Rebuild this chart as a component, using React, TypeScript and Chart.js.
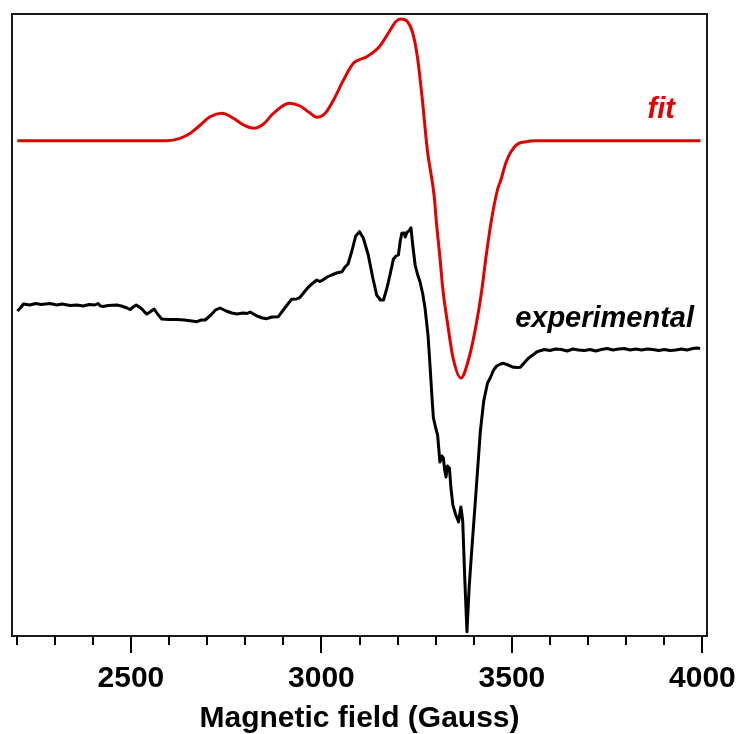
import React, { useEffect, useRef } from "react";
import { Chart, registerables } from "chart.js";

Chart.register(...registerables);

// Experimental EPR spectrum (field in Gauss, intensity in arbitrary units)
const expField = [
  2202, 2210, 2218, 2235, 2250, 2265, 2288, 2305, 2320, 2340, 2358, 2375, 2390, 2405, 2414, 2420,
  2427, 2440, 2463, 2475, 2490, 2498, 2506, 2514, 2522, 2529, 2536, 2542, 2550, 2561, 2570, 2581,
  2600, 2620, 2640, 2660, 2673, 2685, 2695, 2710, 2722, 2734, 2750, 2765, 2778, 2795, 2805, 2813,
  2822, 2831, 2845, 2857, 2870, 2887, 2900, 2912, 2922, 2935, 2944, 2955, 2966, 2978, 2988, 2995,
  3001, 3015, 3027, 3040, 3054, 3062, 3070, 3080, 3090, 3100, 3110, 3123, 3135, 3145, 3155, 3163,
  3172, 3180, 3189, 3196, 3202, 3207, 3211, 3217, 3220, 3225, 3230, 3235, 3240, 3246, 3252, 3259,
  3266, 3272, 3280, 3285, 3290, 3294, 3300, 3305, 3311, 3316, 3320, 3324, 3327, 3331, 3336, 3340,
  3345, 3352, 3360, 3366, 3369, 3371, 3376, 3382, 3388, 3395, 3405, 3417, 3426, 3436, 3443, 3452,
  3460, 3470, 3478, 3490, 3504, 3515, 3522, 3532, 3543, 3555, 3565, 3574, 3585, 3600, 3615, 3630,
  3645, 3660, 3675, 3690, 3705, 3720, 3735, 3750, 3765, 3780, 3795, 3810, 3825, 3840, 3855, 3870,
  3885, 3900, 3915, 3930, 3945, 3960, 3975, 3985, 3994,
];
const expSignal = [
  325, 328, 332, 331, 332.5, 331.5, 332.5, 331, 332, 330.5, 331, 330, 331.5, 331, 332.5, 330,
  329.5, 330.5, 331, 330, 328, 326.5, 329, 331, 329, 327, 324, 322, 324, 327, 322, 317,
  316.5, 316.5, 316, 315, 314.3, 316, 316, 321, 326, 328, 325, 323, 322, 323, 322.5, 324,
  322, 320, 318, 317.3, 319, 319.3, 326, 332, 336.7, 337, 338.7, 344, 349, 353, 356, 354.5,
  355.3, 359, 361, 363, 364.3, 369, 372, 385, 400, 404.3, 398, 381, 358, 341, 336, 336,
  348, 361, 377, 380, 381, 395, 402.7, 403, 399, 404, 405, 408.3, 390, 371, 362, 354,
  342, 328, 300, 271, 240, 218, 208, 201, 174, 180, 178, 165, 159, 170, 168, 148,
  131, 122, 114, 129, 121, 114, 60, 4.3, 50, 88, 140, 204, 235, 253, 258, 266,
  270, 272, 272.7, 271, 268.7, 268.5, 268.7, 273, 277.7, 281, 284, 285.3, 286.5, 285.5, 287, 286.5,
  285, 287, 286, 285.5, 286.5, 285, 286.5, 287.5, 286, 287, 287.5, 286, 287, 286, 287, 286.5,
  285.5, 286.5, 285.5, 286, 287, 286, 287.5, 288, 287.5,
];

// Simulated fit
const fitField = [
  2202, 2594, 2629, 2656, 2682, 2708, 2739, 2769, 2796, 2822, 2848, 2874, 2916, 2944, 2971, 2988,
  3010, 3032, 3058, 3084, 3119, 3152, 3178, 3195, 3209, 3226, 3239, 3252, 3265, 3278, 3296, 3302,
  3311, 3319, 3331, 3345, 3366, 3388, 3407, 3421, 3432, 3445, 3462, 3471, 3484, 3497, 3515, 3537,
  3563, 3995,
];
const fitSignal = [
  495.3, 495.3, 497.7, 502.7, 511, 519.3, 522.7, 517.7, 511, 507.7, 512, 522.7, 532.7, 530, 522.7, 518.7,
  522.7, 536, 556, 572.7, 579.3, 589.3, 604.3, 614.3, 617, 614.3, 604, 579, 536, 486, 440, 413,
  379, 346, 313, 279, 258, 279, 313, 346, 379, 413, 446, 456, 473, 484, 492, 494.3,
  495.3, 495.3,
];

const majorTicks = [2500, 3000, 3500, 4000];
const minorTicks = [2200, 2300, 2400, 2600, 2700, 2800, 2900, 3100, 3200, 3300, 3400, 3600, 3700, 3800, 3900];
const xTitle = "Magnetic field (Gauss)";
const seriesNames = ["fit", "experimental"];
const fitLabelAt = [3928, 518];
const expLabelAt = [3978, 309];

const RED = "#e30000";
const FONT = '"Liberation Sans", Arial, Helvetica, sans-serif';

const framePlugin = {
  id: "frame",
  afterDraw(chart: any) {
    const { ctx, chartArea, scales } = chart;
    const { left, top, right, bottom } = chartArea;
    const x = scales.x;
    const y = scales.y;
    ctx.save();
    ctx.strokeStyle = "#1a1a1a";
    ctx.lineWidth = 2;
    ctx.strokeRect(left, top, right - left, bottom - top);
    ctx.strokeStyle = "#000";
    ctx.lineWidth = 2;
    majorTicks.forEach((v) => {
      const px = Math.round(x.getPixelForValue(v));
      ctx.beginPath();
      ctx.moveTo(px, bottom);
      ctx.lineTo(px, bottom + 17);
      ctx.stroke();
    });
    minorTicks.forEach((v) => {
      const px = Math.round(x.getPixelForValue(v));
      ctx.beginPath();
      ctx.moveTo(px, bottom);
      ctx.lineTo(px, bottom + 9);
      ctx.stroke();
    });
    ctx.font = `italic bold 29px ${FONT}`;
    ctx.textAlign = "right";
    ctx.textBaseline = "alphabetic";
    ctx.fillStyle = RED;
    ctx.fillText(seriesNames[0], x.getPixelForValue(fitLabelAt[0]), y.getPixelForValue(fitLabelAt[1]));
    ctx.fillStyle = "#000";
    ctx.fillText(seriesNames[1], x.getPixelForValue(expLabelAt[0]), y.getPixelForValue(expLabelAt[1]));
    ctx.restore();
  },
};

export default function App() {
  const ref = useRef<HTMLCanvasElement | null>(null);
  useEffect(() => {
    if (!ref.current) return;
    const chart = new Chart(ref.current, {
      type: "line",
      data: {
        datasets: [
          {
            label: seriesNames[0],
            data: fitField.map((f, i) => ({ x: f, y: fitSignal[i] })),
            borderColor: RED,
            borderWidth: 3,
            pointRadius: 0,
            cubicInterpolationMode: "monotone",
            fill: false,
          },
          {
            label: seriesNames[1],
            data: expField.map((f, i) => ({ x: f, y: expSignal[i] })),
            borderColor: "#000",
            borderWidth: 3,
            pointRadius: 0,
            tension: 0,
            borderJoinStyle: "round",
            fill: false,
          },
        ],
      },
      options: {
        responsive: false,
        animation: false,
        devicePixelRatio: 1,
        layout: { padding: { left: 12, top: 14, right: 31, bottom: 0 } },
        plugins: { legend: { display: false }, tooltip: { enabled: false } },
        scales: {
          x: {
            type: "linear",
            min: 2188,
            max: 4012,
            grid: { display: false, drawTicks: false, tickLength: 0 },
            border: { display: false },
            afterBuildTicks: (scale: any) => {
              scale.ticks = majorTicks.map((v) => ({ value: v }));
            },
            afterFit: (scale: any) => {
              scale.height = 98;
              scale.paddingLeft = 0;
              scale.paddingRight = 0;
            },
            ticks: {
              padding: 25,
              color: "#000",
              maxRotation: 0,
              autoSkip: false,
              font: { family: FONT, size: 30, weight: "bold", lineHeight: 1.2 },
              callback: (v: any) => String(v),
            },
            title: {
              display: true,
              text: xTitle,
              color: "#000",
              padding: { top: 0, bottom: 0 },
              font: { family: FONT, size: 30, weight: "bold", lineHeight: 1 },
            },
          },
          y: {
            type: "linear",
            display: false,
            min: 0,
            max: 622,
          },
        },
      },
      plugins: [framePlugin],
    } as any);
    return () => chart.destroy();
  }, []);
  return (
    <div style={{ position: "absolute", left: 0, top: 0, width: 738, height: 734, background: "#fff" }}>
      <canvas ref={ref} width={738} height={734} style={{ display: "block" }} />
    </div>
  );
}
